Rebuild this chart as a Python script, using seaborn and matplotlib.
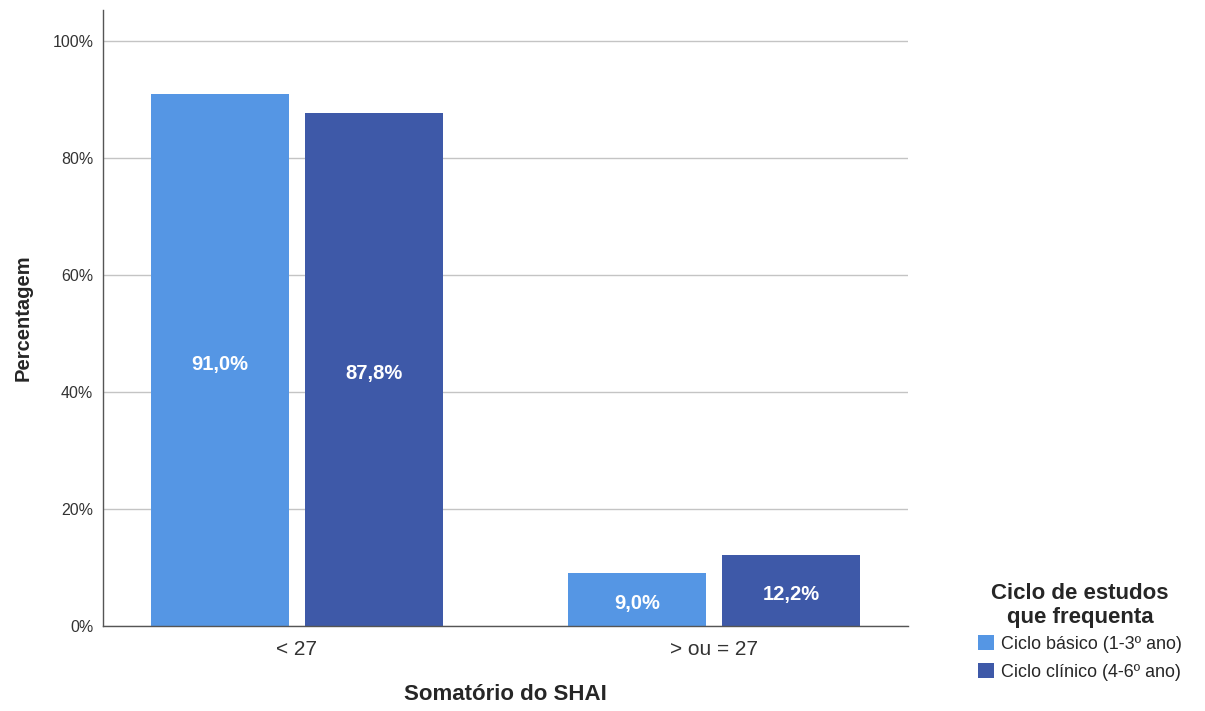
import matplotlib
matplotlib.use("Agg")
import matplotlib.pyplot as plt
import seaborn as sns
import pandas as pd
from matplotlib.ticker import FuncFormatter

categories = ["< 27", "> ou = 27"]
groups = ["Ciclo básico (1-3º ano)", "Ciclo clínico (4-6º ano)"]
basico = [91.0, 9.0]
clinico = [87.8, 12.2]
y_ticks = [0, 20, 40, 60, 80, 100]

df = pd.DataFrame({
    "cat": categories * 2,
    "grupo": [groups[0]] * 2 + [groups[1]] * 2,
    "pct": basico + clinico,
})

sns.set_theme(style="white")
plt.rcParams["font.family"] = ["Liberation Sans", "DejaVu Sans"]

fig = plt.figure(figsize=(12.05, 7.11), dpi=100)
ax = fig.add_axes([0.0855, 0.1195, 0.668, 0.866])

palette = ["#5596E4", "#3E59A8"]
sns.barplot(data=df, x="cat", y="pct", hue="grupo", order=categories,
            hue_order=groups, palette=palette, width=0.74, gap=0.105,
            saturation=1, ax=ax, legend=True, edgecolor="none")

for cont in ax.containers:
    texts = ax.bar_label(cont, labels=[f"{v:.1f}%".replace(".", ",") for v in cont.datavalues],
                         label_type="center", color="white", fontsize=14.5, fontweight="bold")
    for t in texts:
        t.xyann = (0, -3)

ax.set_xlim(-0.465, 1.465)
ax.set_ylim(0, 105.3)
ax.set_yticks(y_ticks)
ax.yaxis.set_major_formatter(FuncFormatter(lambda v, p: f"{v:.0f}%"))
ax.grid(axis="y", color="#c4c4c4", linewidth=1)
ax.set_axisbelow(True)
for s in ["top", "right"]:
    ax.spines[s].set_visible(False)
for s in ["left", "bottom"]:
    ax.spines[s].set_color("#555555")
    ax.spines[s].set_linewidth(1)
ax.tick_params(axis="y", labelsize=11.5, colors="#333333", length=0, pad=7)
ax.tick_params(axis="x", labelsize=15, colors="#333333", length=0, pad=10)
ax.set_xlabel("Somatório do SHAI", fontsize=16, fontweight="bold", labelpad=18)
ax.set_ylabel("Percentagem", fontsize=14.5, fontweight="bold", labelpad=14)

leg = ax.legend(title="Ciclo de estudos\nque frequenta", loc="upper left",
                bbox_to_anchor=(969 / 1205, 1 - 574 / 711), bbox_transform=fig.transFigure,
                frameon=False, borderpad=0, fontsize=12.9,
                title_fontproperties={"weight": "bold", "size": 16},
                handlelength=0.9, handleheight=0.9, handletextpad=0.4,
                labelspacing=0.6)
leg.get_title().set_multialignment("center")
leg._legend_box.align = "center"
leg._legend_box.sep = 5

fig.savefig("out.png", dpi=100)
